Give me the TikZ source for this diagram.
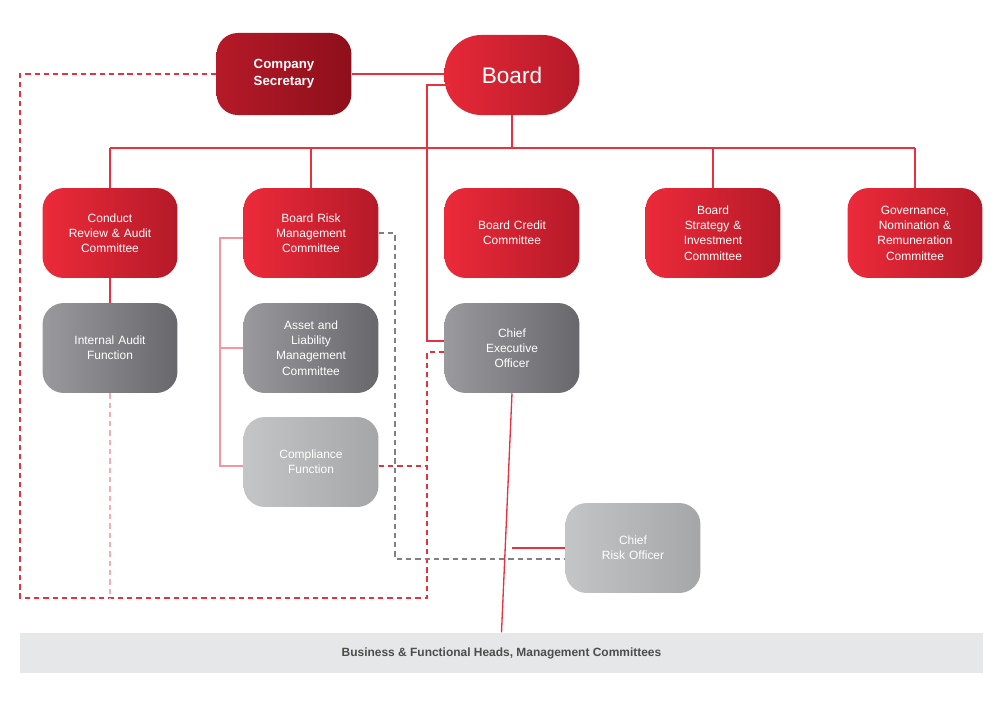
\documentclass[tikz,border=0pt]{standalone}
\usepackage{fontspec}
\setmainfont{Liberation Sans}
\definecolor{redA}{HTML}{EC2A3A}
\definecolor{redB}{HTML}{B51A28}
\definecolor{redC}{HTML}{8E0F1B}
\definecolor{greyA}{HTML}{9A9A9E}
\definecolor{greyB}{HTML}{68686C}
\definecolor{lgreyA}{HTML}{C4C5C7}
\definecolor{lgreyB}{HTML}{A5A6A8}
\definecolor{lineR}{HTML}{E8303F}
\definecolor{barG}{HTML}{E6E7E8}
\begin{document}
\begin{tikzpicture}[x=0.02646cm, y=-0.02646cm,
    box/.style={rounded corners=16pt, minimum width=3.57cm, minimum height=2.38cm,
                text width=3cm, align=center, text=white, font=\fontsize{9}{11.5}\selectfont},
    redbox/.style={box, left color=redA, right color=redB},
    greybox/.style={box, left color=greyA, right color=greyB},
    lightbox/.style={box, left color=lgreyA, right color=lgreyB},
    link/.style={draw=lineR, line width=1pt},
    pale/.style={draw=lineR!50, line width=1pt},
    rdash/.style={draw=lineR, line width=0.8pt, dash pattern=on 4pt off 3pt},
    gdash/.style={draw=gray, line width=0.8pt, dash pattern=on 4pt off 3pt}
  ]
  \useasboundingbox (0,0) rectangle (1003,717);
  % top level
  \node[redbox, minimum height=2.17cm, text=white, left color=redB, right color=redC,
        font=\fontsize{10}{13}\selectfont\bfseries] (secretary) at (284,74) {Company\\Secretary};
  \node[redbox, minimum height=2.12cm, rounded corners=28pt, left color=redA!90!redB,
        right color=redB, font=\fontsize{17}{20}\selectfont] (board) at (512,75) {Board};
  % committees
  \node[redbox] (conduct) at (110,233) {Conduct\\Review \& Audit\\Committee};
  \node[redbox] (risk) at (311,233) {Board Risk\\Management\\Committee};
  \node[redbox] (credit) at (512,233) {Board Credit\\Committee};
  \node[redbox] (strategy) at (713,233) {Board\\Strategy \&\\Investment\\Committee};
  \node[redbox] (governance) at (915,233) {Governance,\\Nomination \&\\Remuneration\\Committee};
  % management
  \node[greybox] (audit) at (110,348) {Internal Audit\\Function};
  \node[greybox] (alco) at (311,348) {Asset and\\Liability\\Management\\Committee};
  \node[lightbox] (compliance) at (311,462) {Compliance\\Function};
  \node[greybox] (ceo) at (512,348) {Chief\\Executive\\Officer};
  \node[lightbox] (cro) at (633,548) {Chief\\Risk Officer};
  \node[fill=barG, minimum width=25.48cm, minimum height=1.08cm,
        font=\fontsize{9}{11}\selectfont\bfseries, text=black!70] (heads) at (501.5,653)
        {Business \& Functional Heads, Management Committees};

  % solid links
  \draw[link] (secretary.east) -- (board.west |- secretary.east);
  \draw[link] (board.south) -- (512,148);
  \draw[link] (110,148) -- (915,148);
  \foreach \n in {conduct, risk, strategy, governance}
    \draw[link] (\n.north) -- (\n.north |- 0,148);
  \draw[link] (450,85) -- (427,85) -- (427,341) -- (ceo.west |- 0,341);
  \draw[link] (conduct) -- (audit);
  \draw[link] (ceo.south) -- (heads.north);
  \draw[link] (512,548) -- (cro.west);
  \draw[pale] (risk.west |- 0,238) -- (220,238) -- (220,466) -- (compliance.west |- 0,466);
  \draw[pale] (220,348) -- (alco.west);
  % dashed links
  \coordinate (c1) at (427,598);
  \draw[rdash] (ceo.west |- 0,352) -- (427,352) -- (c1) -- (20,598) -- (20,74) -- (secretary.west);
  \draw[rdash] (compliance.east |- 0,466) -- (427,466);
  \draw[rdash, draw=lineR!40] (audit.south) -- (110,598);
  \draw[gdash] (risk.east |- 0,233) -- (395,233) -- (395,559) -- (cro.west |- 0,559);
\end{tikzpicture}
\end{document}
